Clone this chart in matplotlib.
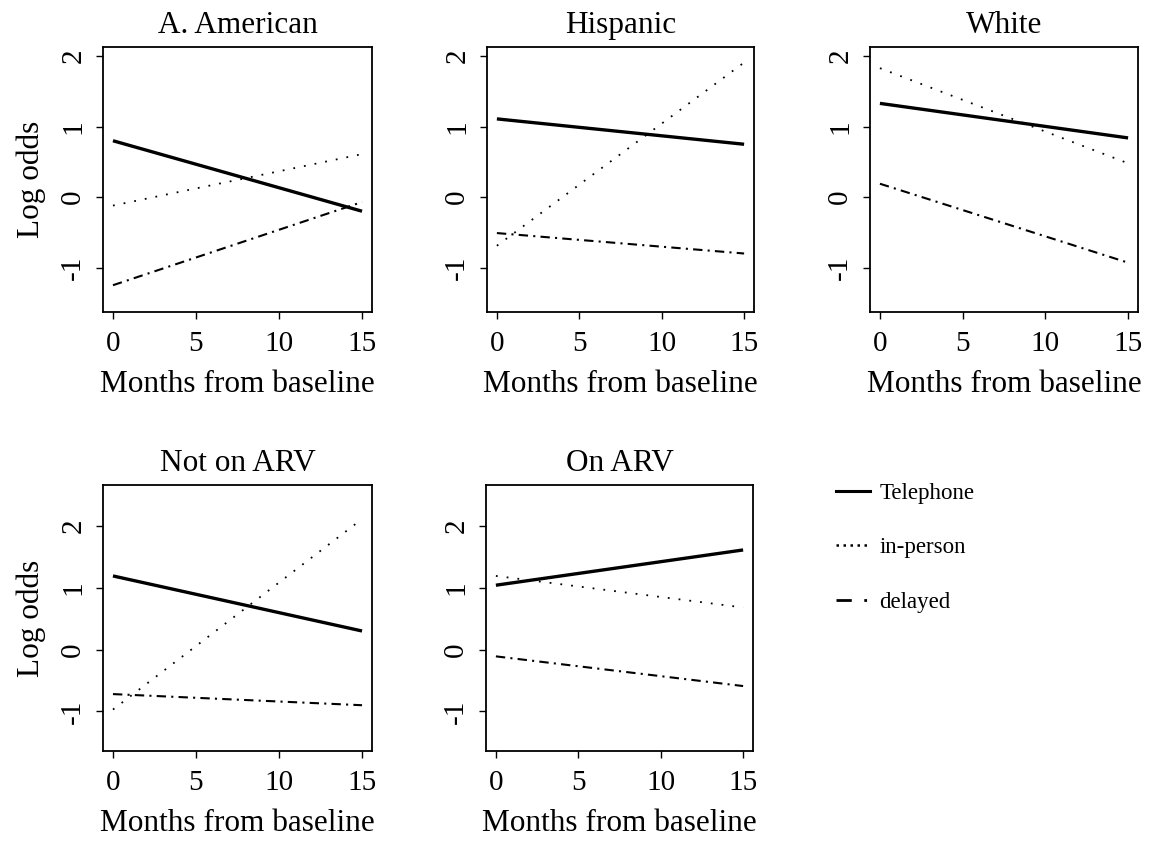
import matplotlib
matplotlib.use("Agg")
import matplotlib.pyplot as plt
from matplotlib.lines import Line2D

plt.rcParams['font.family'] = ['Liberation Serif', 'DejaVu Serif']

months = [0, 15]
panel_titles = ["A. American", "Hispanic", "White", "Not on ARV", "On ARV"]
# log odds at month 0 and month 15
telephone = [[0.80, -0.20], [1.11, 0.75], [1.33, 0.84], [1.19, 0.30], [1.04, 1.61]]
in_person = [[-0.12, 0.61], [-0.69, 1.91], [1.83, 0.48], [-0.97, 2.11], [1.19, 0.68]]
delayed = [[-1.25, -0.07], [-0.51, -0.80], [0.19, -0.93], [-0.72, -0.90], [-0.11, -0.59]]
legend_labels = ["Telephone", "in-person", "delayed"]
x_ticks = [0, 5, 10, 15]
y_ticks = [-1, 0, 1, 2]

W, H = 1171, 844
fig = plt.figure(figsize=(W / 100, H / 100), dpi=100)

# axes boxes in pixels: left, top, right, bottom
boxes = [(103, 47, 372, 312), (487, 47, 754, 312), (870, 47, 1138, 312),
         (103, 485, 372, 751), (486, 485, 753, 751)]
ylims = [(-1.63, 2.13)] * 3 + [(-1.64, 2.66)] * 2

for i in range(5):
    l, t, r, b = boxes[i]
    ax = fig.add_axes([l / W, 1 - b / H, (r - l) / W, (b - t) / H])
    ax.plot(months, telephone[i], color='black', lw=2.4, solid_capstyle='butt')
    ax.plot(months, in_person[i], color='black', lw=1.3, linestyle=(0, (1, 5)))
    ax.plot(months, delayed[i], color='black', lw=1.5, linestyle=(0, (4.5, 2.5, 1, 2.5)))
    ax.set_xlim(-0.6, 15.6)
    ax.set_ylim(*ylims[i])
    ax.set_xticks(x_ticks)
    ax.set_yticks(y_ticks)
    ax.set_yticklabels([str(v) for v in y_ticks], rotation=90, va='center')
    ax.tick_params(length=5, width=1, labelsize=21)
    ax.tick_params(axis='x', pad=9)
    ax.tick_params(axis='y', pad=7)
    for s in ax.spines.values():
        s.set_linewidth(1.3)
    ax.set_title(panel_titles[i], fontsize=22.5, pad=10)
    ax.set_xlabel("Months from baseline", fontsize=22.5, labelpad=9)
    if i in (0, 3):
        ax.set_ylabel("Log odds", fontsize=22.5, labelpad=10)

handles = [Line2D([], [], color='black', lw=2.2),
           Line2D([], [], color='black', lw=1.8, linestyle=(0, (1, 1.8))),
           Line2D([], [], color='black', lw=2.0, linestyle=(0, (5.5, 4.5, 1, 4.5)))]
fig.legend(handles, legend_labels, loc='upper left', bbox_to_anchor=(836 / W, 1 - 483 / H),
           frameon=False, fontsize=16.5, handlelength=1.5, handletextpad=0.4,
           labelspacing=1.45, borderpad=0, borderaxespad=0)

fig.savefig("out.png", dpi=100, facecolor='white')
